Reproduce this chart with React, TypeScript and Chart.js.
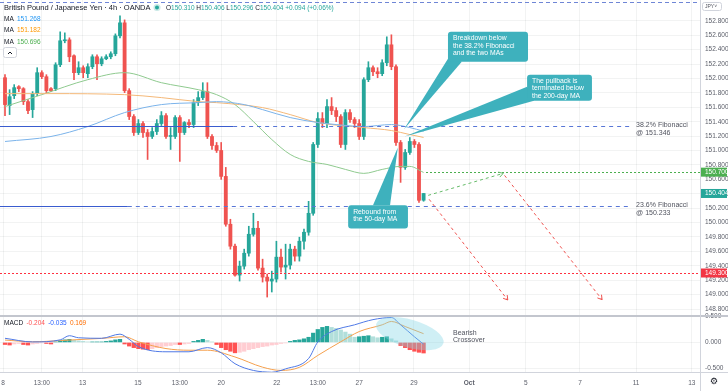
import { useEffect, useRef } from 'react';
import { Chart, registerables } from 'chart.js';

Chart.register(...registerables);

// ---- GBP/JPY 4h candles (Sep 2021) ----
const opens = [152.011,151.624,151.762,151.887,151.859,151.679,151.568,151.790,152.081,152.025,
151.859,151.859,152.191,152.524,152.537,152.316,152.081,152.150,152.067,152.164,
152.302,152.205,152.274,152.302,152.344,152.593,152.773,151.831,151.472,151.250,
151.375,151.250,151.195,151.264,151.375,151.485,151.195,151.195,151.458,151.250,
151.389,151.361,151.665,151.735,151.818,151.195,151.070,151.001,150.641,149.977,
149.672,149.271,149.395,149.575,149.838,149.921,149.368,149.243,149.188,149.216,
149.520,149.382,149.409,149.631,149.534,149.741,149.866,150.129,151.084,151.444,
151.375,151.610,151.555,151.472,151.084,151.527,151.430,151.375,151.195,151.984,
152.150,152.094,152.067,152.219,152.468,152.164,151.112,150.766,150.973,151.126,
151.084,150.310];
const highs = [152.053,151.845,151.915,151.901,151.873,151.707,151.818,152.150,152.108,152.053,
151.873,152.219,152.648,152.634,152.565,152.330,152.233,152.177,152.205,152.330,
152.330,152.302,152.330,152.371,152.620,152.870,152.814,151.859,151.499,151.430,
151.402,151.292,151.319,151.430,151.541,151.513,151.319,151.485,151.485,151.402,
151.430,151.707,151.818,151.942,151.942,151.222,151.112,151.112,150.766,150.046,
149.700,149.465,149.631,149.949,150.129,150.018,149.492,149.285,149.326,149.741,
149.631,149.700,149.700,149.672,149.797,149.908,150.295,151.112,151.527,151.527,
151.707,151.735,151.596,151.499,151.568,151.568,151.458,151.430,152.011,152.233,
152.177,152.150,152.261,152.579,152.607,152.191,151.140,151.015,151.181,151.153,
151.112,150.406];
const lows = [151.485,151.499,151.721,151.818,151.638,151.513,151.458,151.762,151.998,151.804,
151.818,151.831,152.164,152.496,152.233,151.984,152.053,152.011,152.011,152.136,
151.984,152.177,152.261,152.274,152.316,152.565,151.804,151.430,151.209,151.222,
151.181,150.876,151.167,151.222,151.347,151.167,151.015,151.167,150.849,151.222,
151.319,151.319,151.624,151.707,151.167,151.015,150.973,150.600,149.949,149.631,
149.257,149.188,149.354,149.534,149.811,149.340,149.174,148.966,149.036,149.174,
149.312,149.216,149.354,149.465,149.465,149.631,149.824,150.101,151.042,151.319,
151.319,151.499,151.402,151.042,151.015,151.389,151.319,151.153,151.153,151.956,
152.039,152.011,152.039,152.177,152.122,151.070,150.558,150.738,150.946,151.042,
150.281,150.296];
const closes = [151.638,151.748,151.873,151.859,151.679,151.555,151.790,152.081,152.025,151.831,
151.831,152.191,152.524,152.537,152.302,152.081,152.150,152.081,152.164,152.302,
152.205,152.274,152.302,152.344,152.593,152.773,151.831,151.472,151.250,151.375,
151.250,151.195,151.264,151.375,151.485,151.195,151.209,151.458,151.250,151.389,
151.361,151.665,151.735,151.818,151.195,151.070,151.001,150.641,149.977,149.672,
149.271,149.395,149.575,149.838,149.921,149.368,149.243,149.188,149.216,149.520,
149.382,149.409,149.631,149.534,149.741,149.866,150.129,151.084,151.444,151.375,
151.610,151.555,151.472,151.084,151.527,151.430,151.375,151.195,151.984,152.150,
152.094,152.067,152.219,152.468,152.164,151.112,150.766,150.973,151.126,151.084,
150.309,150.404];

// ---- moving averages (bar index, value) ----
const maBlueIdx = [0,10,18,26,34,42,46,52,56,62,68,72,78,84,88,91];
const maBlueVal = [151.126,151.195,151.333,151.527,151.638,151.665,151.679,151.638,151.568,151.458,151.389,151.361,151.333,151.361,151.319,151.268];
const maOrangeIdx = [0,10,26,34,42,46,56,62,68,78,84,88,91];
const maOrangeVal = [151.790,151.790,151.776,151.735,151.679,151.665,151.596,151.499,151.389,151.319,151.278,151.222,151.182];
const maGreenIdx = [0,8,18,26,34,42,46,50,54,58,62,66,70,74,78,82,86,88,91];
const maGreenVal = [151.610,151.776,151.984,152.081,151.942,151.845,151.776,151.638,151.402,151.153,150.946,150.849,150.807,150.738,150.683,150.738,150.780,150.780,150.696];

// ---- MACD ----
const histVals = [-0.04,-0.05,-0.03,-0.02,-0.04,-0.05,-0.03,-0.02,-0.01,-0.02,
-0.03,0.01,0.03,0.05,0.06,0.04,0.03,0.02,0.01,0.01,
0.01,0.01,0.02,0.03,0.05,0.06,-0.03,-0.07,-0.10,-0.12,
-0.13,-0.14,-0.12,-0.10,-0.08,-0.07,-0.06,-0.04,-0.04,-0.03,
-0.02,0.02,0.04,0.06,0.04,0.01,-0.04,-0.10,-0.14,-0.17,
-0.20,-0.19,-0.17,-0.14,-0.12,-0.10,-0.08,-0.07,-0.05,-0.04,
-0.02,-0.01,0.02,0.04,0.05,0.07,0.10,0.18,0.25,0.29,
0.31,0.29,0.27,0.24,0.20,0.16,0.10,0.11,0.12,0.13,
0.11,0.09,0.10,0.11,0.07,0.03,-0.06,-0.10,-0.14,-0.17,
-0.19,-0.204];
const macdIdx = [0,6,12,14,16,21,25,27,29,35,40,44,47,50,54,58,61,66,68,71,76,80,84,86,89,91];
const macdVal = [0.08,0.01,0.05,0.13,0.09,0.08,0.16,0.06,-0.08,-0.18,-0.18,-0.10,-0.20,-0.41,-0.54,-0.575,-0.51,-0.31,0.01,0.21,0.34,0.44,0.48,0.34,0.11,-0.035];
const signalIdx = [0,6,14,21,26,29,35,40,44,50,56,60,64,68,73,77,82,84,87,91];
const signalVal = [0.046,0.013,0.046,0.078,0.11,0.013,-0.118,-0.15,-0.15,-0.28,-0.477,-0.54,-0.48,-0.25,0.013,0.21,0.34,0.405,0.307,0.169];

// ---- axis ticks ----
const timeTickPos = [-0.43, 8.0, 16.87, 28.9, 38.0, 47.0, 59.1, 68.0, 77.0, 88.9, 100.9, 113.2, 125.0, 137.2, 149.3];
const timeTickLabels = ['8','13:00','13','15','13:00','20','22','13:00','27','29','Oct','5','7','11','13'];
const priceTicks = [148.8,149.0,149.2,149.4,149.6,149.8,150.0,150.2,150.4,150.6,150.8,151.0,151.2,151.4,151.6,151.8,152.0,152.2,152.4,152.6,152.8];
const macdTicks = [-0.5, 0, 0.5];

// ---- levels ----
const fib382 = 151.346;
const fib236 = 150.233;
const topLevel = 153.06;
const support = 149.3;
const resistance = 150.7;
const lastPrice = 150.404;

const FONT = "'Liberation Sans', Arial, sans-serif";
const UP = '#26a69a';
const DOWN = '#ef5350';
const TEAL = '#3eb1bd';

const callouts = [
  { x0: 96.3, x1: 113.7, p0: 152.648, p1: 152.233, b1: [96.7, 152.316], b2: [99.3, 152.233], tip: [86.7, 151.292], text: ['Breakdown below', 'the 38.2% Fibonacci', 'and the two MAs'] },
  { x0: 113.5, x1: 127.6, p0: 152.053, p1: 151.693, b1: [113.5, 151.887], b2: [115.0, 151.693], tip: [86.9, 151.195], text: ['The pullback is', 'terminated below', 'the 200-day MA'] },
  { x0: 74.6, x1: 87.6, p0: 150.240, p1: 149.917, b1: [80.0, 150.240], b2: [83.7, 150.240], tip: [85.4, 151.043], text: ['Rebound from', 'the 50-day MA'] },
];

function roundRect(ctx: CanvasRenderingContext2D, x: number, y: number, w: number, h: number, r: number) {
  ctx.beginPath();
  ctx.moveTo(x + r, y);
  ctx.lineTo(x + w - r, y);
  ctx.quadraticCurveTo(x + w, y, x + w, y + r);
  ctx.lineTo(x + w, y + h - r);
  ctx.quadraticCurveTo(x + w, y + h, x + w - r, y + h);
  ctx.lineTo(x + r, y + h);
  ctx.quadraticCurveTo(x, y + h, x, y + h - r);
  ctx.lineTo(x, y + r);
  ctx.quadraticCurveTo(x, y, x + r, y);
  ctx.closePath();
}

function dashedArrow(ctx: CanvasRenderingContext2D, x1: number, y1: number, x2: number, y2: number, color: string) {
  ctx.strokeStyle = color;
  ctx.lineWidth = 1;
  ctx.setLineDash([3, 3]);
  ctx.beginPath();
  ctx.moveTo(x1, y1);
  ctx.lineTo(x2, y2);
  ctx.stroke();
  ctx.setLineDash([]);
  const a = Math.atan2(y2 - y1, x2 - x1);
  const L = 5;
  ctx.beginPath();
  ctx.moveTo(x2 - L * Math.cos(a - 0.55), y2 - L * Math.sin(a - 0.55));
  ctx.lineTo(x2, y2);
  ctx.lineTo(x2 - L * Math.cos(a + 0.55), y2 - L * Math.sin(a + 0.55));
  ctx.stroke();
}

function dottedRow(ctx: CanvasRenderingContext2D, x1: number, x2: number, y: number, color: string, step: number) {
  ctx.fillStyle = color;
  const yy = Math.round(y);
  for (let x = Math.round(x1); x < x2; x += step) ctx.fillRect(x, yy, 2, 1);
}

const annotations = {
  id: 'tvAnnotations',
  afterDatasetsDraw(chart: any) {
    const { ctx, scales } = chart;
    const xs = scales.x, ys = scales.y, ym = scales.yM;
    const X = (v: number) => xs.getPixelForValue(v);
    const Y = (v: number) => ys.getPixelForValue(v);
    const M = (v: number) => ym.getPixelForValue(v);
    ctx.save();

    // top dashed level
    ctx.strokeStyle = '#6f86d6';
    ctx.lineWidth = 1;
    ctx.setLineDash([4, 3]);
    ctx.beginPath();
    ctx.moveTo(X(xs.min), Math.round(Y(topLevel)) + 0.5);
    ctx.lineTo(X(xs.max), Math.round(Y(topLevel)) + 0.5);
    ctx.stroke();

    // fibonacci levels: solid then dashed
    const fibs = [
      { p: fib382, solidEnd: 49.6, l1: '38.2% Fibonacci', l2: '@ 151.346' },
      { p: fib236, solidEnd: 26.7, l1: '23.6% Fibonacci', l2: '@ 150.233' },
    ];
    for (const f of fibs) {
      const yy = Math.round(Y(f.p)) + 0.5;
      ctx.setLineDash([]);
      ctx.strokeStyle = '#3a5ccf';
      ctx.lineWidth = 1.2;
      ctx.beginPath();
      ctx.moveTo(X(xs.min), yy);
      ctx.lineTo(X(f.solidEnd), yy);
      ctx.stroke();
      ctx.setLineDash([4, 4]);
      ctx.strokeStyle = '#5876d6';
      ctx.lineWidth = 1;
      ctx.beginPath();
      ctx.moveTo(X(f.solidEnd), yy);
      ctx.lineTo(X(135.9), yy);
      ctx.stroke();
      ctx.setLineDash([]);
      ctx.fillStyle = '#50535e';
      ctx.font = `7px ${FONT}`;
      ctx.textBaseline = 'middle';
      ctx.textAlign = 'left';
      ctx.fillText(f.l1, X(137.2), yy - 1.5);
      ctx.fillText(f.l2, X(137.2), yy + 6.5);
    }

    // support (red dotted) and resistance (green dotted)
    ctx.setLineDash([]);
    dottedRow(ctx, X(xs.min), X(xs.max), Y(support), '#ff3040', 4);
    dottedRow(ctx, X(91.6), X(xs.max), Y(resistance), '#4caf50', 4);

    // projected paths
    dashedArrow(ctx, X(92.0), Y(150.378), X(108.3), Y(150.683), '#66bb6a');
    dashedArrow(ctx, X(92.2), Y(150.323), X(109.3), Y(148.925), '#ef5350');
    dashedArrow(ctx, X(108.6), Y(150.655), X(129.8), Y(148.93), '#ef5350');

    // ellipse highlight in MACD pane
    ctx.fillStyle = 'rgba(128, 214, 228, 0.38)';
    ctx.beginPath();
    ctx.ellipse(X(88.0), M(0.17), 35, 14, 0.28, 0, Math.PI * 2);
    ctx.fill();
    ctx.fillStyle = '#50535e';
    ctx.font = `7px ${FONT}`;
    ctx.textBaseline = 'middle';
    ctx.fillText('Bearish', X(97.4), M(0.177));
    ctx.fillText('Crossover', X(97.4), M(0.04));

    // callouts
    for (const c of callouts) {
      ctx.fillStyle = TEAL;
      ctx.beginPath();
      ctx.moveTo(X(c.b1[0]), Y(c.b1[1]));
      ctx.lineTo(X(c.tip[0]), Y(c.tip[1]));
      ctx.lineTo(X(c.b2[0]), Y(c.b2[1]));
      ctx.closePath();
      ctx.fill();
      const bx = X(c.x0), by = Y(c.p0), bw = X(c.x1) - bx, bh = Y(c.p1) - by;
      roundRect(ctx, bx, by, bw, bh, 3);
      ctx.fill();
      ctx.fillStyle = '#ffffff';
      ctx.font = `6.8px ${FONT}`;
      ctx.textBaseline = 'middle';
      ctx.textAlign = 'left';
      c.text.forEach((t, k) => ctx.fillText(t, bx + 5, by + 6.5 + k * 7.3));
    }
    ctx.restore();
  },
  afterDraw(chart: any) {
    const { ctx, scales, chartArea, width, height } = chart;
    const ys = scales.y;
    ctx.save();
    // separators
    ctx.fillStyle = '#c3c6ce';
    ctx.fillRect(0, Math.round(ys.bottom) - 1, width, 2);
    ctx.fillStyle = '#d1d4dc';
    ctx.fillRect(0, Math.round(chartArea.bottom), width, 1);
    ctx.fillRect(Math.round(chartArea.right), 0, 1, height);

    // axis price tags
    const tags: [number, string][] = [[resistance, '#4caf50'], [lastPrice, '#26a69a'], [support, '#f23645']];
    ctx.font = `6.5px ${FONT}`;
    ctx.textBaseline = 'middle';
    ctx.textAlign = 'left';
    for (const [p, col] of tags) {
      const yy = ys.getPixelForValue(p);
      ctx.fillStyle = col;
      ctx.fillRect(chartArea.right + 1, yy - 4.5, 26, 9);
      ctx.fillStyle = '#ffffff';
      ctx.fillText(p.toFixed(3), chartArea.right + 5, yy);
    }

    // currency selector
    ctx.strokeStyle = '#d1d4dc';
    ctx.lineWidth = 1;
    roundRect(ctx, 702.5, 2.5, 19, 8, 2);
    ctx.fillStyle = '#ffffff';
    ctx.fill();
    ctx.stroke();
    ctx.fillStyle = '#50535e';
    ctx.font = `5px ${FONT}`;
    ctx.fillText('JPY\u02C5', 705, 7);

    // header
    ctx.font = `7.5px ${FONT}`;
    ctx.fillStyle = '#131722';
    ctx.fillText('British Pound / Japanese Yen \u00B7 4h \u00B7 OANDA', 4, 8);
    ctx.fillStyle = 'rgba(38,166,154,0.25)';
    ctx.beginPath(); ctx.arc(157, 7.5, 3.5, 0, Math.PI * 2); ctx.fill();
    ctx.fillStyle = UP;
    ctx.beginPath(); ctx.arc(157, 7.5, 2, 0, Math.PI * 2); ctx.fill();
    ctx.font = `6.5px ${FONT}`;
    let xx = 166;
    const parts: [string, string][] = [['O', '#131722'], ['150.310', UP], [' H', '#131722'], ['150.406', UP], [' L', '#131722'], ['150.296', UP], [' C', '#131722'], ['150.404', UP], [' +0.094 (+0.06%)', UP]];
    for (const [t, col] of parts) {
      ctx.fillStyle = col;
      ctx.fillText(t, xx, 8);
      xx += ctx.measureText(t).width;
    }
    const maLeg: [string, string, number][] = [['151.268', '#2196f3', 19], ['151.182', '#ff9800', 30.5], ['150.696', '#4caf50', 42]];
    for (const [v, col, yy] of maLeg) {
      ctx.fillStyle = '#131722';
      ctx.fillText('MA', 4, yy);
      ctx.fillStyle = col;
      ctx.fillText(v, 17, yy);
    }
    // collapse button
    ctx.strokeStyle = '#d1d4dc';
    roundRect(ctx, 3.5, 47.5, 13, 10, 2);
    ctx.fillStyle = '#ffffff';
    ctx.fill();
    ctx.stroke();
    ctx.strokeStyle = '#131722';
    ctx.beginPath(); ctx.moveTo(8, 54); ctx.lineTo(10, 52); ctx.lineTo(12, 54); ctx.stroke();

    // MACD legend
    const macdLeg: [string, string][] = [['MACD ', '#131722'], ['-0.204 ', '#ff5252'], ['-0.035 ', '#2962ff'], ['0.169', '#ff6d00']];
    xx = 4;
    for (const [t, col] of macdLeg) {
      ctx.fillStyle = col;
      ctx.fillText(t, xx, 323.5);
      xx += ctx.measureText(t).width + 1.5;
    }

    // settings glyph
    ctx.fillStyle = '#131722';
    ctx.font = `9px 'DejaVu Sans'`;
    ctx.textAlign = 'center';
    ctx.fillText('\u2699', 714, 381.5);
    ctx.restore();
  },
};

export default function App() {
  const ref = useRef<HTMLCanvasElement>(null);
  useEffect(() => {
    document.body.style.margin = '0';
    const canvas = ref.current;
    if (!canvas) return;
    const idx = closes.map((_, i) => i);
    const candleColors = idx.map(i => (closes[i] >= opens[i] ? UP : DOWN));
    const histColors = histVals.map((v, i) => {
      const prev = i > 0 ? histVals[i - 1] : v;
      if (v >= 0) return v >= prev ? '#26a69a' : '#b2dfdb';
      return v <= prev ? '#ff5252' : '#ffcdd2';
    });
    const grid = 'rgba(42, 46, 57, 0.06)';
    const tickColor = '#5d606b';

    const chart = new Chart(canvas, {
      type: 'bar',
      data: {
        datasets: [
          { type: 'line', data: maBlueIdx.map((x, k) => ({ x, y: maBlueVal[k] })), borderColor: '#7bb3ea', borderWidth: 1, pointRadius: 0, cubicInterpolationMode: 'monotone', yAxisID: 'y', order: 0 } as any,
          { type: 'line', data: maOrangeIdx.map((x, k) => ({ x, y: maOrangeVal[k] })), borderColor: '#f4b878', borderWidth: 1, pointRadius: 0, cubicInterpolationMode: 'monotone', yAxisID: 'y', order: 0 } as any,
          { type: 'line', data: maGreenIdx.map((x, k) => ({ x, y: maGreenVal[k] })), borderColor: '#8fca8f', borderWidth: 1, pointRadius: 0, cubicInterpolationMode: 'monotone', yAxisID: 'y', order: 0 } as any,
          { type: 'bar', data: idx.map(i => ({ x: i, y: [opens[i], closes[i]] })), backgroundColor: candleColors, barThickness: 3.2, minBarLength: 1, grouped: false, yAxisID: 'y', order: 2 } as any,
          { type: 'bar', data: idx.map(i => ({ x: i, y: [lows[i], highs[i]] })), backgroundColor: candleColors, barThickness: 1, grouped: false, yAxisID: 'y', order: 3 } as any,
          { type: 'bar', data: idx.map(i => ({ x: i, y: histVals[i] })), backgroundColor: histColors, barThickness: 3.6, grouped: false, yAxisID: 'yM', order: 4 } as any,
          { type: 'line', data: macdIdx.map((x, k) => ({ x, y: macdVal[k] })), borderColor: '#4f79e6', borderWidth: 1, pointRadius: 0, cubicInterpolationMode: 'monotone', yAxisID: 'yM', order: 1 } as any,
          { type: 'line', data: signalIdx.map((x, k) => ({ x, y: signalVal[k] })), borderColor: '#f5a04d', borderWidth: 1, pointRadius: 0, cubicInterpolationMode: 'monotone', yAxisID: 'yM', order: 1 } as any,
        ],
      },
      options: {
        responsive: false,
        animation: false,
        events: [],
        layout: { padding: 0 },
        plugins: { legend: { display: false }, tooltip: { enabled: false } },
        scales: {
          x: {
            type: 'linear',
            offset: false,
            min: -1.087,
            max: 151.09,
            afterBuildTicks: (s: any) => { s.ticks = timeTickPos.map(v => ({ value: v })); },
            afterFit: (s: any) => { s.height = 19; s.paddingLeft = 0; s.paddingRight = 0; },
            ticks: {
              callback: (_v: any, i: number) => timeTickLabels[i],
              color: tickColor,
              font: (c: any) => ({ size: 6.5, family: FONT, weight: timeTickLabels[c.index] === 'Oct' ? 'bold' : 'normal' }),
              maxRotation: 0,
              autoSkip: false,
              padding: 7,
            },
            grid: { color: grid, drawTicks: false, offset: false },
            border: { display: false },
          } as any,
          y: {
            type: 'linear',
            position: 'right',
            stack: 'panes',
            stackWeight: 316,
            min: 148.703,
            max: 153.09,
            afterBuildTicks: (s: any) => { s.ticks = priceTicks.map(v => ({ value: v })); },
            afterFit: (s: any) => { s.width = 28; s.paddingTop = 0; s.paddingBottom = 0; },
            ticks: { callback: (v: any) => Number(v).toFixed(3), color: tickColor, font: { size: 6.5, family: FONT }, padding: 5, crossAlign: 'near', autoSkip: false },
            grid: { color: grid, drawTicks: false },
            border: { display: false },
          } as any,
          yM: {
            type: 'linear',
            position: 'right',
            stack: 'panes',
            stackWeight: 56,
            min: -0.57,
            max: 0.51,
            afterBuildTicks: (s: any) => { s.ticks = macdTicks.map(v => ({ value: v })); },
            afterFit: (s: any) => { s.width = 28; s.paddingTop = 0; s.paddingBottom = 0; },
            ticks: { callback: (v: any) => Number(v).toFixed(3), color: tickColor, font: { size: 6.5, family: FONT }, padding: 5, crossAlign: 'near', autoSkip: false },
            grid: { color: grid, drawTicks: false },
            border: { display: false },
          } as any,
        },
      },
      plugins: [annotations],
    });
    return () => chart.destroy();
  }, []);
  return <canvas ref={ref} width={728} height={391} style={{ display: 'block' }} />;
}
